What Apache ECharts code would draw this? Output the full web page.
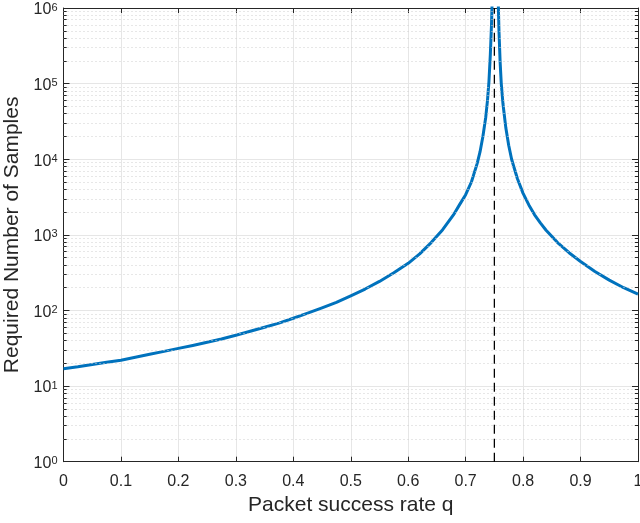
<!DOCTYPE html>
<html>
<head>
<meta charset="utf-8">
<script src="https://cdn.jsdelivr.net/npm/echarts@6/dist/echarts.min.js"></script>
<style>
html,body{margin:0;padding:0;background:#fff;}
#chart{width:640px;height:523px;}
</style>
</head>
<body>
<div id="chart"></div>
<script>
// ---- data ----
const qValues = [0, 0.025, 0.05, 0.075, 0.1, 0.125, 0.15, 0.175, 0.2, 0.225, 0.25, 0.275, 0.3, 0.325, 0.35, 0.375, 0.4, 0.425,
                 0.45, 0.475, 0.5, 0.525, 0.55, 0.575, 0.6, 0.62, 0.64, 0.66, 0.68, 0.69, 0.7, 0.71, 0.72, 0.725, 0.73, 0.735,
                 0.738, 0.7405, 0.743, 0.745, 0.7465, 0.748,
                 0.754, 0.756, 0.757, 0.758, 0.76, 0.762, 0.765, 0.77, 0.775, 0.78, 0.79, 0.8, 0.81, 0.82, 0.83, 0.84, 0.86,
                 0.88, 0.9, 0.925, 0.95, 0.975, 1.0];
const samples = [17, 18, 19.3, 20.6, 22, 24, 26.3, 28.8, 31.5, 34.5, 38, 42, 47, 53, 60, 68, 79, 92,
                 108, 128, 156, 192, 242, 315, 420, 560, 790, 1170, 1900, 2550, 3400, 5000, 8750, 12500, 20000, 36000,
                 60000, 105000, 245000, 600000, 1550000, 5000000,
                 5000000, 2250000, 1000000, 500000, 194000, 100000, 53700, 25800, 15200, 10000, 5560, 3540, 2490, 1840, 1440, 1150, 790,
                 580, 445, 328, 252, 200, 164];
const thresholdQ = 0.75;
const xTickValues = [0, 0.1, 0.2, 0.3, 0.4, 0.5, 0.6, 0.7, 0.8, 0.9, 1];
const xTickLabels = ['0', '0.1', '0.2', '0.3', '0.4', '0.5', '0.6', '0.7', '0.8', '0.9', '1'];
const yExponents = [0, 1, 2, 3, 4, 5, 6];
const xName = 'Packet success rate q';
const yName = 'Required Number of Samples';

// ---- build ----
const FONT = 'Liberation Sans';
const TXT = '#262626';
const minorVals = [];
for (let e = 0; e < yExponents.length - 1; e++) {
  for (let m = 2; m <= 9; m++) minorVals.push(m * Math.pow(10, yExponents[e]));
}
const curve = qValues.map((q, i) => [q, samples[i]]);
const yMin = Math.pow(10, yExponents[0]);
const yMax = Math.pow(10, yExponents[yExponents.length - 1]);

const minorGrid = minorVals.map(v => ({ yAxis: v }));
const minorTicks = [];
minorVals.forEach(v => {
  minorTicks.push([{ coord: [0, v] }, { coord: [0.0055, v] }]);
  minorTicks.push([{ coord: [1, v] }, { coord: [0.9945, v] }]);
});

const chart = echarts.init(document.getElementById('chart'), null, { renderer: 'canvas' });
const baseX = {
  type: 'value', min: 0, max: 1, interval: 0.1,
  axisLine: { show: true, onZero: false, lineStyle: { color: TXT, width: 1 } },
  axisTick: { show: true, inside: true, length: 5, lineStyle: { color: TXT, width: 1 } },
};
const baseY = {
  type: 'log', logBase: 10, min: yMin, max: yMax, splitNumber: 6,
  axisLine: { show: true, onZero: false, lineStyle: { color: TXT, width: 1 } },
  axisTick: { show: true, inside: true, length: 6, lineStyle: { color: TXT, width: 1 } },
};
const option = {
  animation: false,
  backgroundColor: '#fff',
  grid: { left: 63.5, right: 2, top: 8, bottom: 61.3, containLabel: false, outerBoundsMode: 'none' },
  xAxis: [
    Object.assign({}, baseX, {
      position: 'bottom',
      name: xName, nameLocation: 'middle', nameGap: 33,
      nameTextStyle: { fontFamily: FONT, fontSize: 21, color: TXT },
      axisLabel: {
        show: true, margin: 12, fontFamily: FONT, fontSize: 16, color: TXT,
        formatter: v => { const i = xTickValues.findIndex(t => Math.abs(t - v) < 1e-9); return i >= 0 ? xTickLabels[i] : ''; }
      },
      splitLine: { show: true, lineStyle: { color: '#e6e6e6', width: 1 } }
    }),
    Object.assign({}, baseX, {
      position: 'top', show: true, axisLabel: { show: false }, splitLine: { show: false }
    })
  ],
  yAxis: [
    Object.assign({}, baseY, {
      position: 'left',
      name: yName, nameLocation: 'middle', nameGap: 38, nameRotate: 90,
      nameTextStyle: { fontFamily: FONT, fontSize: 21, color: TXT },
      axisLabel: {
        show: true, margin: 6, fontFamily: FONT, color: TXT, padding: [4, 0, 0, 0],
        formatter: v => '{b|10}{s|' + Math.round(Math.log10(v)) + '}',
        rich: {
          b: { fontFamily: FONT, fontSize: 16, lineHeight: 16, color: TXT, padding: [5, 0, 0, 0], verticalAlign: 'bottom' },
          s: { fontFamily: FONT, fontSize: 11, lineHeight: 12, color: TXT, verticalAlign: 'top' }
        }
      },
      splitLine: { show: true, lineStyle: { color: '#e6e6e6', width: 1 } }
    }),
    Object.assign({}, baseY, {
      position: 'right', show: true, axisLabel: { show: false }, splitLine: { show: false }
    })
  ],
  series: [
    {
      type: 'line', xAxisIndex: 0, yAxisIndex: 0, data: [], silent: true, z: 1,
      markLine: {
        silent: true, symbol: 'none', label: { show: false }, animation: false,
        lineStyle: { color: '#cfcfcf', width: 1, type: [1, 3] },
        emphasis: { disabled: true },
        data: minorGrid
      }
    },
    {
      type: 'line', xAxisIndex: 1, yAxisIndex: 1, data: [], silent: true
    },
    {
      type: 'line', xAxisIndex: 0, yAxisIndex: 0, data: curve,
      showSymbol: false, symbol: 'none', smooth: false, clip: true, z: 3,
      lineStyle: { color: '#0072BD', width: 3, join: 'round' }
    },
    {
      type: 'line', xAxisIndex: 0, yAxisIndex: 0, data: [[thresholdQ, yMin], [thresholdQ, yMax]],
      showSymbol: false, symbol: 'none', z: 4,
      lineStyle: { color: '#000', width: 1.3, type: [9, 5] }
    },
    {
      type: 'line', xAxisIndex: 0, yAxisIndex: 0, data: [], silent: true, z: 5,
      markLine: {
        silent: true, symbol: 'none', label: { show: false }, animation: false,
        lineStyle: { color: TXT, width: 1, type: 'solid' },
        emphasis: { disabled: true },
        data: minorTicks
      }
    }
  ]
};
chart.setOption(option);
</script>
</body>
</html>
